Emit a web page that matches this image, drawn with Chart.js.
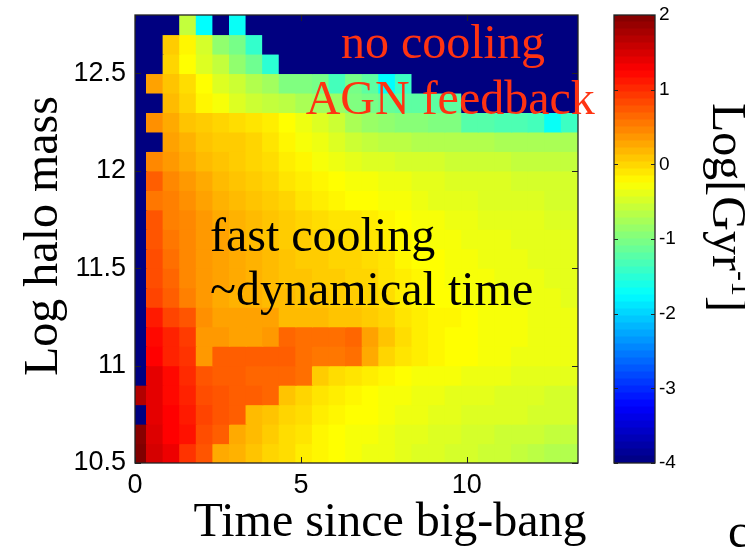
<!DOCTYPE html>
<html>
<head>
<meta charset="utf-8">
<script src="https://cdn.jsdelivr.net/npm/chart.js@4.4.1/dist/chart.umd.min.js"></script>
<style>
  html, body { margin: 0; padding: 0; background: #fff; }
  #wrap { position: relative; width: 745px; height: 548px; overflow: hidden; }
  canvas { position: absolute; top: 0; }
  #heat { left: 0; }
  #cbar { left: 590px; }
</style>
</head>
<body>
<div id="wrap">
  <canvas id="heat" width="745" height="548"></canvas>
  <canvas id="cbar" width="155" height="548"></canvas>
</div>
<script>
// time bin centres (Gyr), 0.5 Gyr wide
const timeCenters = [0.1, 0.6, 1.1, 1.6, 2.1, 2.6, 3.1, 3.6, 4.1, 4.6, 5.1, 5.6, 6.1, 6.6,
  7.1, 7.6, 8.1, 8.6, 9.1, 9.6, 10.1, 10.6, 11.1, 11.6, 12.1, 12.6, 13.1];
// lower edge of each halo mass bin, top row first (0.1 dex wide)
const massBins = [12.7, 12.6, 12.5, 12.4, 12.3, 12.2, 12.1, 12.0, 11.9, 11.8, 11.7, 11.6,
  11.5, 11.4, 11.3, 11.2, 11.1, 11.0, 10.9, 10.8, 10.7, 10.6, 10.5];
const xTicks = [0, 5, 10];
const yTicks = [10.5, 11, 11.5, 12, 12.5];
const cbTicks = [-4, -3, -2, -1, 0, 1, 2];

// log cooling rate [Gyr^-1], one row per mass bin (top to bottom); -4 = no cooling
const rateRows = [
  [-4, -4, -4, -0.6, -1.75, -4, -1.7, -4, -4, -4, -4, -4, -4, -4, -4, -4, -4, -4, -4, -4, -4, -4, -4, -4, -4, -4, -4],
  [-4, -4, 0.05, -0.2, -0.5, -0.9, -1.05, -1.45, -4, -4, -4, -4, -4, -4, -4, -4, -4, -4, -4, -4, -4, -4, -4, -4, -4, -4, -4],
  [-4, -4, 0.0, -0.25, -0.45, -0.6, -0.9, -1.1, -1.5, -4, -4, -4, -4, -4, -4, -4, -4, -4, -4, -4, -4, -4, -4, -4, -4, -4, -4],
  [-4, 0.3, 0.1, -0.05, -0.25, -0.45, -0.55, -0.7, -0.8, -1.0, -1.0, -1.05, -1.35, -1.05, -1.2, -1.75, -1.4, -4, -4, -4, -4, -4, -4, -4, -4, -4, -4],
  [-4, -4, 0.15, 0.0, -0.2, -0.3, -0.45, -0.55, -0.6, -0.65, -0.75, -0.8, -0.85, -1.0, -1.05, -1.15, -1.2, -1.2, -1.2, -1.2, -4, -4, -4, -4, -4, -4, -4],
  [-4, 0.4, 0.25, 0.1, 0.05, 0.0, -0.05, -0.1, -0.15, -0.25, -0.35, -0.45, -0.55, -0.75, -0.85, -0.9, -0.95, -0.95, -1.0, -1.0, -1.25, -1.25, -1.3, -1.3, -1.35, -1.7, -1.4],
  [-4, -4, 0.3, 0.2, 0.1, 0.05, 0.05, 0.0, -0.1, -0.2, -0.3, -0.35, -0.45, -0.55, -0.6, -0.65, -0.65, -0.7, -0.7, -0.7, -0.7, -0.7, -0.75, -0.75, -0.75, -0.75, -0.75],
  [-4, 0.45, 0.35, 0.25, 0.15, 0.1, 0.05, 0.0, -0.05, -0.15, -0.2, -0.3, -0.35, -0.4, -0.45, -0.45, -0.5, -0.5, -0.5, -0.55, -0.55, -0.55, -0.55, -0.6, -0.6, -0.6, -0.6],
  [-4, 0.7, 0.45, 0.35, 0.25, 0.15, 0.1, 0.05, 0.0, -0.1, -0.15, -0.2, -0.25, -0.3, -0.3, -0.35, -0.35, -0.4, -0.4, -0.45, -0.45, -0.45, -0.45, -0.5, -0.5, -0.5, -0.5],
  [-4, 0.55, 0.5, 0.4, 0.3, 0.2, 0.15, 0.1, 0.05, 0.0, -0.1, -0.15, -0.2, -0.25, -0.25, -0.3, -0.3, -0.35, -0.4, -0.4, -0.4, -0.45, -0.45, -0.45, -0.45, -0.5, -0.5],
  [-4, 0.75, 0.5, 0.45, 0.35, 0.25, 0.2, 0.15, 0.1, 0.05, 0.0, -0.05, -0.1, -0.1, -0.15, -0.2, -0.25, -0.3, -0.3, -0.35, -0.35, -0.4, -0.4, -0.4, -0.4, -0.45, -0.45],
  [-4, 0.75, 0.55, 0.45, 0.35, 0.3, 0.2, 0.15, 0.1, 0.05, 0.05, 0.0, -0.05, -0.05, -0.1, -0.15, -0.2, -0.25, -0.3, -0.3, -0.35, -0.35, -0.35, -0.4, -0.4, -0.4, -0.4],
  [-4, 0.8, 0.6, 0.45, 0.35, 0.3, 0.25, 0.2, 0.15, 0.1, 0.05, 0.05, 0.0, 0.0, -0.05, -0.1, -0.2, -0.25, -0.25, -0.3, -0.3, -0.35, -0.35, -0.35, -0.4, -0.4, -0.4],
  [-4, 0.8, 0.65, 0.45, 0.35, 0.3, 0.25, 0.2, 0.15, 0.1, 0.1, 0.05, 0.05, 0.0, 0.0, -0.1, -0.15, -0.2, -0.25, -0.3, -0.3, -0.3, -0.35, -0.35, -0.35, -0.4, -0.4],
  [-4, 0.85, 0.7, 0.5, 0.35, 0.25, 0.2, 0.2, 0.15, 0.15, 0.1, 0.1, 0.05, 0.05, 0.0, -0.05, -0.15, -0.2, -0.25, -0.25, -0.3, -0.3, -0.3, -0.35, -0.35, -0.35, -0.4],
  [-4, 1.1, 0.85, 0.75, 0.4, 0.3, 0.3, 0.3, 0.3, 0.15, 0.15, 0.15, 0.1, 0.1, 0.05, 0.0, -0.1, -0.15, -0.2, -0.2, -0.25, -0.3, -0.3, -0.3, -0.35, -0.35, -0.35],
  [-4, 1.2, 1.05, 0.9, 0.35, 0.35, 0.3, 0.3, 0.35, 0.65, 0.6, 0.6, 0.6, 0.65, 0.3, 0.1, -0.05, -0.15, -0.2, -0.25, -0.25, -0.3, -0.3, -0.3, -0.35, -0.35, -0.35],
  [-4, 1.25, 1.05, 0.95, 0.35, 0.7, 0.7, 0.7, 0.7, 0.7, 0.6, 0.55, 0.55, 0.6, 0.25, 0.0, -0.1, -0.15, -0.2, -0.25, -0.25, -0.3, -0.3, -0.35, -0.35, -0.35, -0.35],
  [-4, 1.4, 1.2, 1.0, 0.75, 0.7, 0.7, 0.65, 0.65, 0.65, 0.6, 0.05, -0.05, -0.1, -0.15, -0.2, -0.25, -0.3, -0.3, -0.3, -0.35, -0.35, -0.35, -0.4, -0.4, -0.4, -0.4],
  [1.7, 1.4, 1.2, 1.05, 0.8, 0.75, 0.7, 0.7, 0.65, 0.1, 0.0, -0.1, -0.15, -0.2, -0.25, -0.3, -0.3, -0.35, -0.35, -0.4, -0.4, -0.4, -0.45, -0.45, -0.45, -0.5, -0.5],
  [-4, 1.4, 1.25, 1.1, 0.85, 0.75, 0.7, 0.15, 0.1, 0.0, -0.05, -0.15, -0.2, -0.25, -0.25, -0.3, -0.35, -0.35, -0.4, -0.4, -0.45, -0.45, -0.45, -0.45, -0.5, -0.5, -0.5],
  [1.95, 1.45, 1.25, 1.15, 0.8, 0.7, 0.25, 0.15, 0.05, -0.05, -0.1, -0.2, -0.25, -0.3, -0.3, -0.35, -0.4, -0.4, -0.45, -0.45, -0.5, -0.5, -0.55, -0.55, -0.55, -0.6, -0.6],
  [2.0, 1.5, 1.35, 0.95, 0.75, 0.25, 0.2, 0.1, 0.0, -0.05, -0.15, -0.2, -0.25, -0.3, -0.35, -0.35, -0.4, -0.45, -0.45, -0.5, -0.5, -0.55, -0.55, -0.6, -0.65, -0.7, -0.7]
];

const vMin = -4, vMax = 2;
const serif = '"Liberation Serif", "Times New Roman", serif';
const sans = '"Liberation Sans", Arial, sans-serif';

// matlab jet colormap
function jet(v) {
  const f = Math.max(0, Math.min(1, (v - vMin) / (vMax - vMin)));
  const c = t => Math.round(255 * Math.max(0, Math.min(1, t)));
  return 'rgb(' + c(Math.min(4 * f - 1.5, -4 * f + 4.5)) + ',' +
    c(Math.min(4 * f - 0.5, -4 * f + 3.5)) + ',' +
    c(Math.min(4 * f + 0.5, -4 * f + 2.5)) + ')';
}

const heatSets = rateRows.map((row, r) => ({
  data: row.map((v, i) => ({ x: timeCenters[i], y: [massBins[r], massBins[r] + 0.1] })),
  backgroundColor: row.map(jet),
  borderWidth: 0,
  inflateAmount: 0.6,
  grouped: false,
  barPercentage: 1,
  categoryPercentage: 1
}));

function inwardTicks(ctx, a, xs, ys, len) {
  ctx.beginPath();
  xs.forEach(px => {
    px = Math.round(px) + 0.5;
    ctx.moveTo(px, a.bottom); ctx.lineTo(px, a.bottom - len);
    ctx.moveTo(px, a.top); ctx.lineTo(px, a.top + len);
  });
  ys.forEach(py => {
    py = Math.round(py) + 0.5;
    ctx.moveTo(a.left, py); ctx.lineTo(a.left + len, py);
    ctx.moveTo(a.right, py); ctx.lineTo(a.right - len, py);
  });
  ctx.stroke();
}

// keep tick labels from pushing the plot box around
function noLabelPadding(s) {
  s.paddingTop = 0; s.paddingBottom = 0; s.paddingLeft = 0; s.paddingRight = 0;
}

const heatDeco = {
  id: 'heatDeco',
  afterDraw(chart) {
    const { ctx, chartArea: a, scales: { x, y } } = chart;
    ctx.save();
    ctx.strokeStyle = '#222';
    ctx.lineWidth = 1.3;
    ctx.strokeRect(a.left, a.top, a.right - a.left, a.bottom - a.top);
    ctx.lineWidth = 1;
    inwardTicks(ctx, a, xTicks.map(v => x.getPixelForValue(v)), yTicks.map(v => y.getPixelForValue(v)), 6);

    // labels inside the panel
    ctx.font = '48px ' + serif;
    ctx.textBaseline = 'alphabetic';
    ctx.textAlign = 'center';
    ctx.fillStyle = '#ff3311';
    ctx.fillText('no cooling', x.getPixelForValue(9.28), y.getPixelForValue(12.58));
    ctx.fillText('AGN feedback', x.getPixelForValue(9.5), y.getPixelForValue(12.29));
    ctx.textAlign = 'left';
    ctx.fillStyle = '#000';
    ctx.fillText('fast cooling', x.getPixelForValue(2.26), y.getPixelForValue(11.59));
    ctx.fillText('~dynamical time', x.getPixelForValue(2.26), y.getPixelForValue(11.31));

    // axis titles
    ctx.textAlign = 'center';
    ctx.fillText('Time since big-bang', 390, 536);
    ctx.translate(57, 236);
    ctx.rotate(-Math.PI / 2);
    ctx.fillText('Log halo mass', 0, 0);
    ctx.restore();
  }
};

new Chart(document.getElementById('heat'), {
  type: 'bar',
  data: { datasets: heatSets },
  options: {
    responsive: false,
    animation: false,
    layout: { padding: { left: 0, top: 15, right: 167, bottom: 0 } },
    plugins: { legend: { display: false }, tooltip: { enabled: false } },
    scales: {
      x: {
        type: 'linear', min: 0, max: 13.35, offset: false,
        afterBuildTicks: s => { s.ticks = xTicks.map(v => ({ value: v })); },
        afterFit: s => { s.height = 85; noLabelPadding(s); },
        grid: { display: false, drawTicks: false },
        border: { display: false },
        ticks: { padding: 6, color: '#000', maxRotation: 0, autoSkip: false,
          font: { family: sans, size: 27 }, callback: v => String(v) }
      },
      y: {
        type: 'linear', min: 10.5, max: 12.8,
        afterBuildTicks: s => { s.ticks = yTicks.map(v => ({ value: v })); },
        afterFit: s => { s.width = 135; noLabelPadding(s); },
        grid: { display: false, drawTicks: false },
        border: { display: false },
        ticks: { padding: 9, color: '#000', autoSkip: false,
          font: { family: sans, size: 27 }, callback: v => String(v) }
      }
    }
  },
  plugins: [heatDeco]
});

// colour bar: 64 jet levels between vMin and vMax
const levelCount = 64;
const cbSets = [];
for (let k = 0; k < levelCount; k++) {
  const lo = vMin + (vMax - vMin) * k / levelCount;
  const hi = vMin + (vMax - vMin) * (k + 1) / levelCount;
  cbSets.push({
    data: [[lo, hi]],
    backgroundColor: jet((lo + hi) / 2),
    borderWidth: 0, inflateAmount: 0.6, grouped: false,
    barPercentage: 1, categoryPercentage: 1
  });
}

const cbDeco = {
  id: 'cbDeco',
  afterDraw(chart) {
    const { ctx, chartArea: a, scales: { y } } = chart;
    ctx.save();
    ctx.strokeStyle = '#222';
    ctx.lineWidth = 1.3;
    ctx.strokeRect(a.left, a.top, a.right - a.left, a.bottom - a.top);
    ctx.lineWidth = 1;
    inwardTicks(ctx, a, [], cbTicks.map(v => y.getPixelForValue(v)), 4);

    ctx.fillStyle = '#000';
    ctx.textBaseline = 'alphabetic';
    ctx.textAlign = 'left';
    // cropped letter at the bottom right edge of the slide
    ctx.font = '48px ' + serif;
    ctx.fillText('c', 138, 547);

    // Log[Gyr^-1], reading top to bottom
    ctx.translate(123, 103);
    ctx.rotate(Math.PI / 2);
    ctx.fillText('Log[Gyr', 0, 0);
    let w = ctx.measureText('Log[Gyr').width;
    ctx.font = '30px ' + serif;
    ctx.fillText('-1', w, -19);
    w += ctx.measureText('-1').width;
    ctx.font = '48px ' + serif;
    ctx.fillText(']', w, 0);
    ctx.restore();
  }
};

new Chart(document.getElementById('cbar'), {
  type: 'bar',
  data: { labels: [''], datasets: cbSets },
  options: {
    responsive: false,
    animation: false,
    layout: { padding: { left: 24, top: 15, right: 0, bottom: 85 } },
    plugins: { legend: { display: false }, tooltip: { enabled: false } },
    scales: {
      x: { display: false },
      y: {
        position: 'right', min: vMin, max: vMax,
        afterBuildTicks: s => { s.ticks = cbTicks.map(v => ({ value: v })); },
        afterFit: s => { s.width = 90; noLabelPadding(s); },
        grid: { display: false, drawTicks: false },
        border: { display: false },
        ticks: { padding: 4, color: '#000', autoSkip: false,
          font: { family: sans, size: 19 }, callback: v => String(v) }
      }
    }
  },
  plugins: [cbDeco]
});
</script>
</body>
</html>
